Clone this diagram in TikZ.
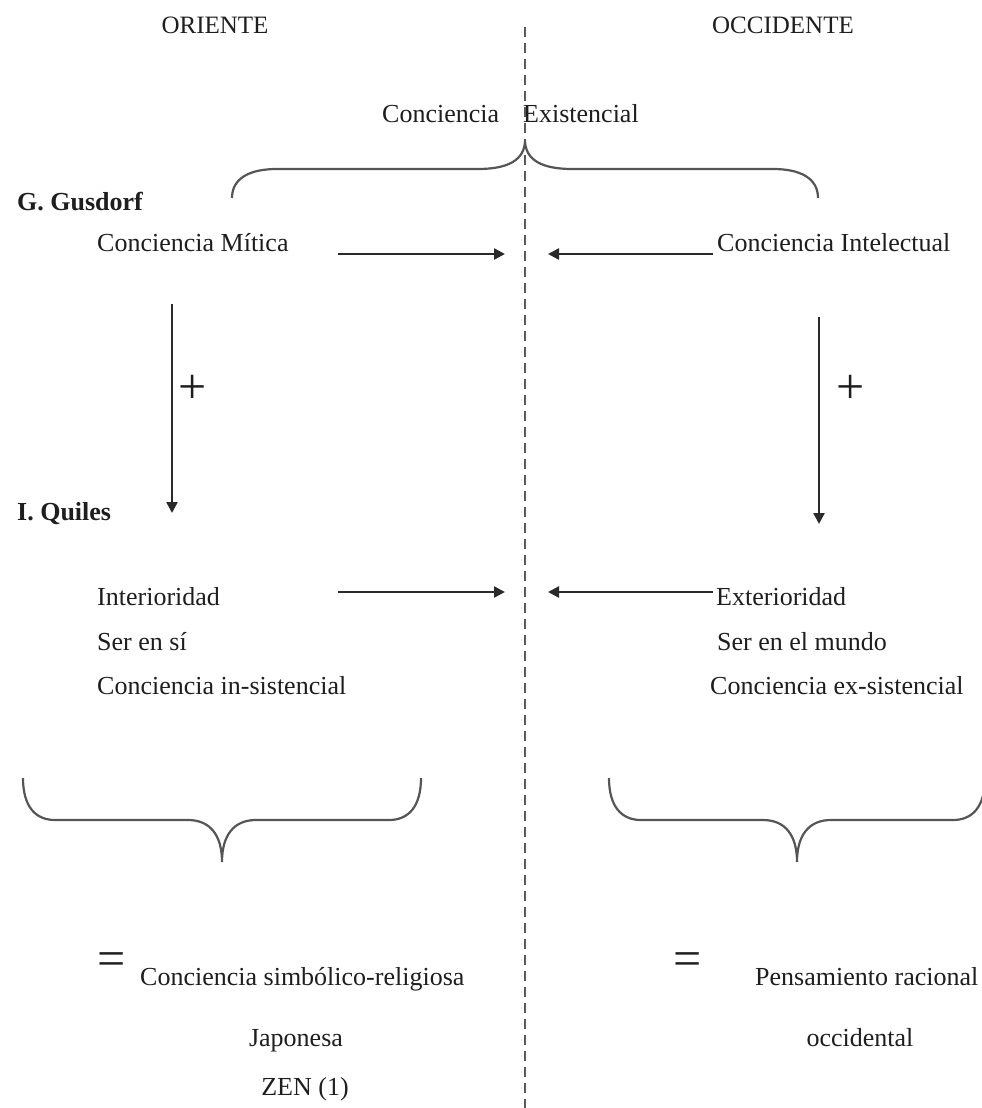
\documentclass[tikz,border=0pt]{standalone}
\usepackage{fontspec}
\setmainfont{Liberation Serif}
\usetikzlibrary{arrows.meta}
\definecolor{ink}{HTML}{1E1E1E}
\definecolor{linec}{HTML}{2A2A2A}
\definecolor{bracec}{HTML}{555555}
\definecolor{dashc}{HTML}{5A5A5A}
\begin{document}
\begin{tikzpicture}[x=1pt,y=-1pt,
  txt/.style={font=\fontsize{26}{30}\selectfont, text=ink, inner sep=0pt, anchor=base west},
  txtb/.style={txt, font=\fontsize{26}{30}\selectfont\bfseries},
  hdr/.style={font=\fontsize{25}{30}\selectfont, text=ink, inner sep=0pt, anchor=base},
  sym/.style={font=\fontsize{50}{56}\selectfont, text=ink, inner sep=0pt, anchor=center},
  conn/.style={draw=linec, line width=2.4pt, -{Triangle[length=11pt,width=11pt]}},
  bracepath/.style={draw=bracec, line width=2.2pt},
  dashline/.style={draw=dashc, line width=2.5pt, dash pattern=on 10pt off 6pt}]
\useasboundingbox (0,0) rectangle (982,1108);

% central dashed divider
\coordinate (dtop) at (525,27);
\coordinate (dbot) at (525,1108);
\draw[dashline] (dtop) -- (dbot);

% headers
\node[hdr] (oriente) at (215,34) {ORIENTE};
\node[hdr] (occidente) at (783,34) {OCCIDENTE};

% top labels
\node[txt] (conc) at (382,122) {Conciencia};
\node[txt] (exist) at (523,122) {Existencial};

% top brace
\draw[bracepath] (232,198) .. controls (232,178) and (250,169) .. (277,169) -- (478,169)
  .. controls (508,169) and (525,160) .. (525,140)
  .. controls (525,160) and (542,169) .. (572,169) -- (773,169)
  .. controls (800,169) and (818,178) .. (818,198);

% Gusdorf row
\node[txtb] (gus) at (17,210) {G. Gusdorf};
\node[txt] (mitica) at (97,251) {Conciencia Mítica};
\node[txt] (intel) at (717,251) {Conciencia Intelectual};

\coordinate (a1s) at (338,254);
\coordinate (a1e) at (505,254);
\coordinate (a2s) at (713,254);
\coordinate (a2e) at (548,254);
\draw[conn] (a1s) -- (a1e);
\draw[conn] (a2s) -- (a2e);

% vertical arrows and plus signs
\coordinate (v1s) at (172,304);
\coordinate (v1e) at (172,513);
\coordinate (v2s) at (819,317);
\coordinate (v2e) at (819,524);
\draw[conn] (v1s) -- (v1e);
\draw[conn] (v2s) -- (v2e);
\node[sym] (plus1) at (193,389) {+};
\node[sym] (plus2) at (851,389) {+};

% Quiles rows
\node[txtb] (quiles) at (17,520) {I. Quiles};
\node[txt] (inter) at (97,605) {Interioridad};
\node[txt] (sersi) at (97,650) {Ser en sí};
\node[txt] (insist) at (97,694) {Conciencia in-sistencial};
\node[txt] (exter) at (716,605) {Exterioridad};
\node[txt] (mundo) at (717,650) {Ser en el mundo};
\node[txt] (exsist) at (710,694) {Conciencia ex-sistencial};

\coordinate (a3s) at (338,592);
\coordinate (a3e) at (505,592);
\coordinate (a4s) at (713,592);
\coordinate (a4e) at (548,592);
\draw[conn] (a3s) -- (a3e);
\draw[conn] (a4s) -- (a4e);

% bottom braces
\draw[bracepath] (23,778) .. controls (23,806) and (35,820) .. (55,820) -- (188,820)
  .. controls (210,820) and (222,835) .. (222,862)
  .. controls (222,835) and (234,820) .. (256,820) -- (389,820)
  .. controls (409,820) and (421,806) .. (421,778);
\draw[bracepath] (609,778) .. controls (609,806) and (621,820) .. (641,820) -- (763,820)
  .. controls (785,820) and (797,835) .. (797,862)
  .. controls (797,835) and (809,820) .. (831,820) -- (953,820)
  .. controls (973,820) and (985,806) .. (985,778);

% results
\node[sym] (eq1) at (112,964) {=};
\node[txt] (simb) at (140,985) {Conciencia simbólico-religiosa};
\node[txt, anchor=base] (jap) at (296,1046) {Japonesa};
\node[txt, anchor=base] (zen) at (305,1095) {ZEN (1)};
\node[sym] (eq2) at (688,964) {=};
\node[txt] (pens) at (755,985) {Pensamiento racional};
\node[txt, anchor=base] (occ) at (860,1046) {occidental};
\end{tikzpicture}
\end{document}
